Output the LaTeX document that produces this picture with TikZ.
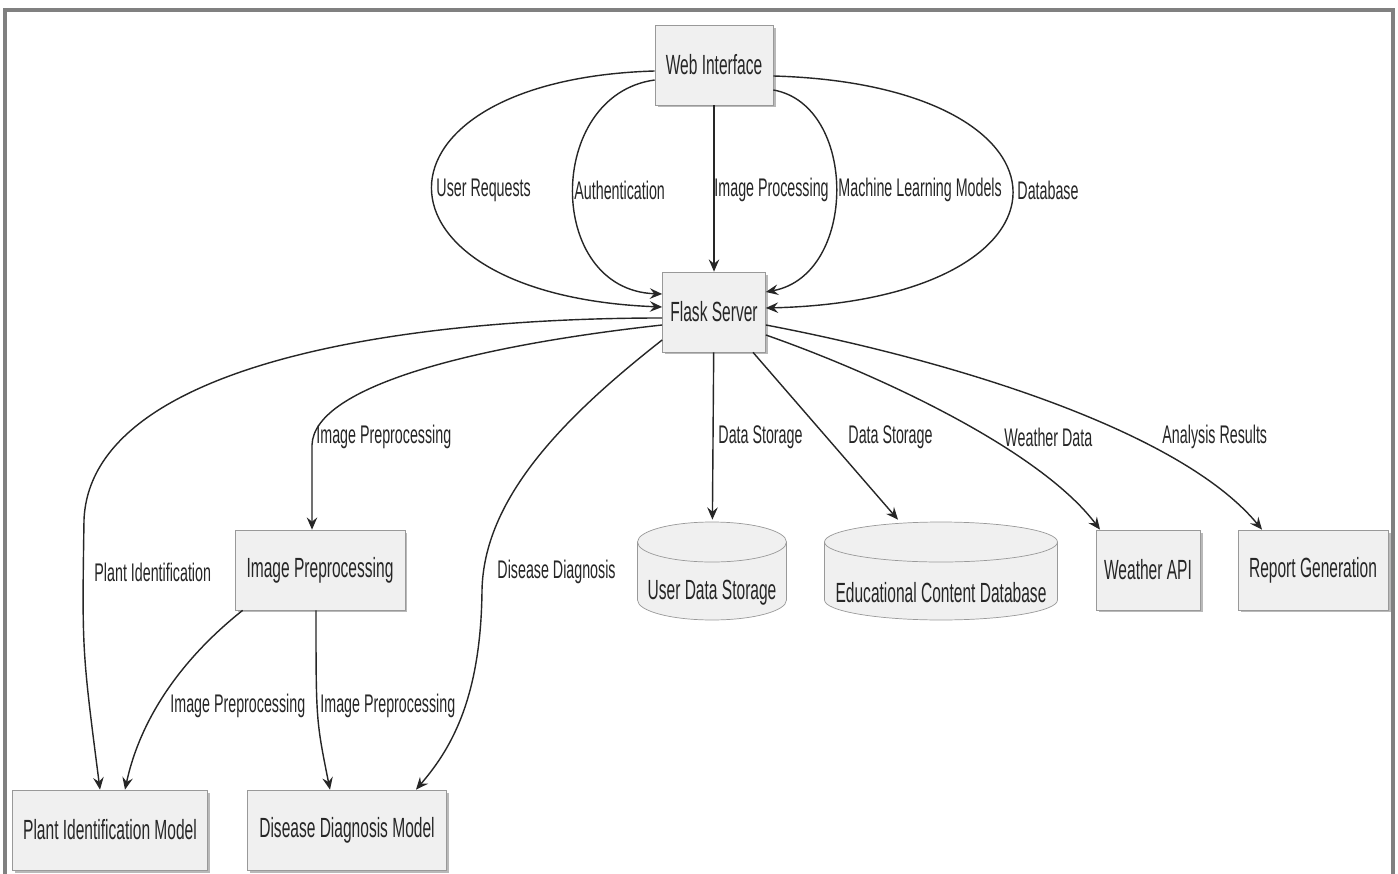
\documentclass[tikz,border=0pt]{standalone}
\usepackage{fontspec}
\setmainfont[FakeStretch=0.56]{Liberation Sans}
\usetikzlibrary{arrows.meta,shadows}

\begin{document}
\begin{tikzpicture}[x=0.02cm, y=-0.02cm,
            box/.style={draw=gray!80, fill=gray!12, rectangle, minimum height=1.6cm, inner sep=0pt,
                font=\fontsize{15.8}{18}\selectfont, text=black!85,
                drop shadow={shadow xshift=0.05cm, shadow yshift=-0.05cm, fill=gray!55, opacity=1}},
            db/.style={rectangle, inner sep=0pt, minimum width=#1+0.08cm, minimum height=2.04cm,
                path picture={
                    \filldraw[draw=gray!80, fill=gray!12]
                        ([xshift=-#1/2, yshift=-0.44cm]path picture bounding box.north)
                        -- ([xshift=-#1/2, yshift=0.44cm]path picture bounding box.south)
                        arc[start angle=180, end angle=360, x radius=#1/2, y radius=0.4cm]
                        -- ([xshift=#1/2, yshift=-0.44cm]path picture bounding box.north)
                        arc[start angle=0, end angle=180, x radius=#1/2, y radius=0.4cm] -- cycle;
                    \draw[gray!80] ([xshift=-#1/2, yshift=-0.44cm]path picture bounding box.north)
                        arc[start angle=180, end angle=360, x radius=#1/2, y radius=0.4cm];
                }},
            dbtext/.style={font=\fontsize{15.8}{18}\selectfont, text=black!85, anchor=center, yshift=-0.44cm},
            link/.style={draw=black!85, line width=0.8pt, -{Stealth[length=7pt, width=6pt, inset=2.5pt]}},
            lbl/.style={anchor=west, inner sep=1pt, font=\fontsize{14.5}{17}\selectfont, text=black!85}
        ]

        \path[use as bounding box, fill=white] (0,0) rectangle (1398,874);
        \draw[gray, line width=1.8pt] (5,880) -- (5,10) -- (1393,10) -- (1393,880);

        \node [box, minimum width=2.36cm] (web) at (714, 65) {Web Interface};
        \node [box, minimum width=2.06cm] (flask) at (714, 312) {Flask Server};
        \node [box, minimum width=3.4cm] (prep) at (320, 570) {Image Preprocessing};
        \node [db=2.98cm, label={[dbtext]center:User Data Storage}] (users) at (712, 571) {};
        \node [db=4.66cm, label={[dbtext]center:Educational Content Database}] (edu) at (941, 571) {};
        \node [box, minimum width=2.08cm] (weather) at (1148, 570) {Weather API};
        \node [box, minimum width=3cm] (report) at (1313, 570) {Report Generation};
        \node [box, minimum width=3.9cm] (plant) at (110, 830) {Plant Identification Model};
        \node [box, minimum width=3.98cm] (disease) at (347, 830) {Disease Diagnosis Model};

        % web interface to server
        \draw[link] ([yshift=-0.12cm]web.west) .. controls (357,80) and (357,295) .. ([yshift=0.1cm]flask.west)
            node[lbl] at (434,190) {User Requests};
        \draw[link] ([yshift=-0.3cm]web.west) .. controls (545,95) and (545,290) .. ([yshift=0.36cm]flask.west)
            node[lbl] at (572,190) {Authentication};
        \draw[link] (web) -- (flask) node[lbl] at (712,190) {Image Processing};
        \draw[link] ([yshift=-0.5cm]web.east) .. controls (858,105) and (858,275) .. ([yshift=0.4cm]flask.east)
            node[lbl] at (836,190) {Machine Learning Models};
        \draw[link] ([yshift=-0.22cm]web.east) .. controls (1093,85) and (1093,300) .. ([yshift=0.08cm]flask.east)
            node[lbl] at (1015,190) {Database};

        % server to the rest
        \draw[link] ([yshift=-0.12cm]flask.west) .. controls (380,318) and (90,370) .. (84,520)
            .. controls (82,650) .. ([xshift=-0.2cm]plant.north)
            node[lbl] at (92,572) {Plant Identification};
        \draw[link] ([yshift=-0.26cm]flask.west) .. controls (480,345) and (314,385) .. (312,445)
            -- ([xshift=-0.16cm]prep.north)
            node[lbl] at (314,437) {Image Preprocessing};
        \draw[link] ([yshift=-0.56cm]flask.west) .. controls (560,420) and (484,500) .. (482,590)
            .. controls (481,700) and (450,750) .. ([xshift=1.38cm]disease.north)
            node[lbl] at (495,572) {Disease Diagnosis};
        \draw[link] (flask) -- (users) node[lbl] at (716,437) {Data Storage};
        \draw[link] ([xshift=0.78cm]flask.south) -- ([xshift=-0.86cm]edu.north)
            node[lbl] at (846,437) {Data Storage};
        \draw[link] ([yshift=-0.46cm]flask.east) .. controls (880,375) and (1040,450) .. ([xshift=-0.96cm]weather.north)
            node[lbl] at (1002,437) {Weather Data};
        \draw[link] ([yshift=-0.26cm]flask.east) .. controls (950,360) and (1180,430) .. ([xshift=-1.02cm]report.north)
            node[lbl] at (1160,437) {Analysis Results};

        % preprocessing to models
        \draw[link] ([xshift=0.16cm]prep.south west) .. controls (180,660) and (140,720) .. ([xshift=0.3cm]plant.north)
            node[lbl] at (168,706) {Image Preprocessing};
        \draw[link] ([xshift=-0.08cm]prep.south) .. controls (316,720) .. ([xshift=-0.34cm]disease.north)
            node[lbl] at (318,706) {Image Preprocessing};

        \end{tikzpicture}
\end{document}
